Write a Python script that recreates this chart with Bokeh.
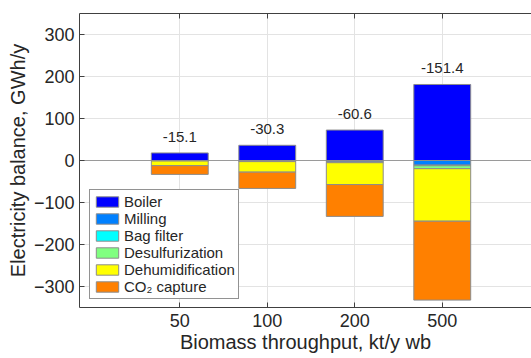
from bokeh.plotting import figure
from bokeh.models import Range1d, FixedTicker, LinearAxis, Span, Legend, LegendItem, ColumnDataSource
from bokeh.embed import file_html
from bokeh.resources import INLINE
from bokeh.core.properties import value

# ---- data (GWh/y) ----
throughput = ["50", "100", "200", "500"]          # kt/y wb
boiler = [18.0, 36.2, 72.5, 181.0]                 # generation (positive)
milling = [-0.9, -1.8, -3.6, -11.0]
bag_filter = [-0.1, -0.3, -0.5, -1.5]
desulfurization = [-0.3, -0.6, -1.2, -7.0]
dehumidification = [-11.0, -25.0, -52.0, -125.0]
co2_capture = [-20.8, -38.8, -75.8, -187.9]
net_balance = [-15.1, -30.3, -60.6, -151.4]

series_names = ["Boiler", "Milling", "Bag filter", "Desulfurization",
                "Dehumidification", "CO\u2082 capture"]
colors = ["#0000FF", "#0080FF", "#00FFFF", "#80FF80", "#FFFF00", "#FF8000"]
y_ticks = [-300, -200, -100, 0, 100, 200, 300]

FONT = "Liberation Sans"
TXT = "#262626"

xpos = [i + 1 for i in range(len(throughput))]
src = ColumnDataSource(dict(
    x=xpos, boiler=boiler, milling=milling, bag=bag_filter, desulf=desulfurization,
    dehum=dehumidification, co2=co2_capture,
    net=[f"{v:.1f}" for v in net_balance],
))

p = figure(frame_width=452, frame_height=294, output_backend="svg", toolbar_location=None,
           x_range=Range1d(-0.146, 5.02), y_range=Range1d(-350, 350),
           min_border_left=79, min_border_top=13, min_border_bottom=51, min_border_right=0)
p.outline_line_color = None
p.background_fill_color = "white"

# grids
p.xgrid.ticker = FixedTicker(ticks=xpos)
p.ygrid.ticker = FixedTicker(ticks=y_ticks)
for g in (p.xgrid, p.ygrid):
    g.grid_line_color = "#e3e3e3"
    g.grid_line_width = 1

zero = Span(location=0, dimension="width", line_color="#9a9a9a", line_width=1, level="underlay")
p.add_layout(zero)

bw = 0.65
r_boiler = p.vbar(x="x", top="boiler", bottom=0, width=bw, source=src,
                  fill_color=colors[0], line_color="#8c8c8c", line_width=1)
stack_renderers = p.vbar_stack(["milling", "bag", "desulf", "dehum", "co2"], x="x", width=bw,
                               source=src, fill_color=colors[1:], line_color="#8c8c8c", line_width=1)

p.text(x="x", y="boiler", text="net", source=src, y_offset=-16,
       text_align="center", text_baseline="middle", text_font=value(FONT),
       text_font_size="15px", text_color=TXT)

# axes
p.xaxis.ticker = FixedTicker(ticks=xpos)
p.xaxis.major_label_overrides = {x: t for x, t in zip(xpos, throughput)}
p.yaxis.ticker = FixedTicker(ticks=y_ticks)
p.xaxis.axis_label = "Biomass throughput, kt/y wb"
p.yaxis.axis_label = "Electricity balance, GWh/y"
for ax in (p.xaxis[0], p.yaxis[0]):
    ax.axis_line_color = "#404040"
    ax.major_tick_line_color = "#404040"
    ax.major_tick_in = 5
    ax.major_tick_out = 0
    ax.minor_tick_line_color = None
    ax.major_label_text_font = FONT
    ax.major_label_text_font_size = "18px"
    ax.major_label_text_color = TXT
    ax.axis_label_text_font = FONT
    ax.axis_label_text_font_size = "20px"
    ax.axis_label_text_font_style = "normal"
    ax.axis_label_text_color = TXT
    ax.axis_label_standoff = 1
p.xaxis.major_label_standoff = 6
p.yaxis.major_label_standoff = 5
p.yaxis.axis_label_standoff = 2

top_ax = LinearAxis(ticker=FixedTicker(ticks=xpos), axis_line_color="#404040",
                    major_tick_line_color="#404040", major_tick_in=5, major_tick_out=0,
                    minor_tick_line_color=None, major_label_text_font_size="1px",
                    major_label_text_color=None, major_label_standoff=0)
p.add_layout(top_ax, "above")

items = [LegendItem(label=series_names[0], renderers=[r_boiler])]
for name, r in zip(series_names[1:], stack_renderers):
    items.append(LegendItem(label=name, renderers=[r]))
legend = Legend(items=items, location=(10, 8), label_text_font=FONT,
                label_text_font_size="15px", label_text_color=TXT,
                glyph_width=28, glyph_height=13, label_height=17, label_standoff=3,
                padding=3, spacing=0, margin=0,
                border_line_color="#262626", border_line_width=1,
                background_fill_color="white", background_fill_alpha=1)
p.add_layout(legend, "center")

open("out.html", "w").write(file_html(p, INLINE))
